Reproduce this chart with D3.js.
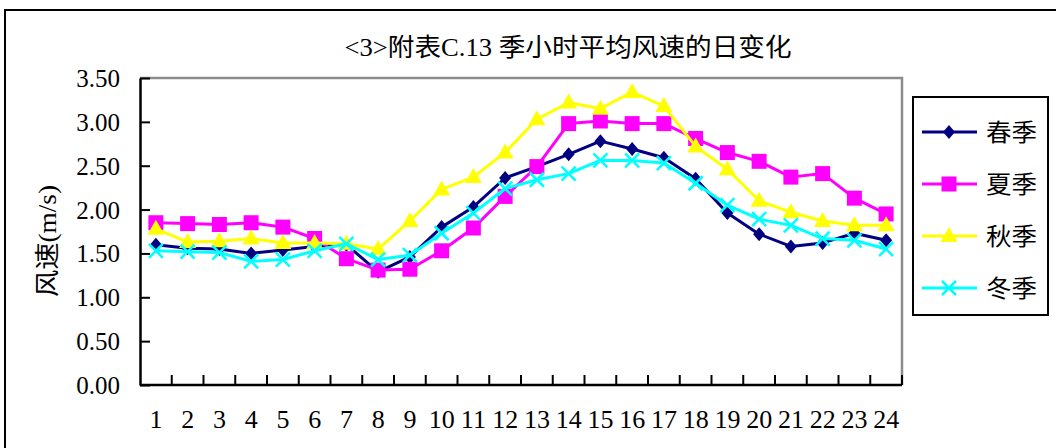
<!DOCTYPE html>
<html>
<head>
<meta charset="utf-8">
<script src="https://cdn.jsdelivr.net/npm/d3@7/dist/d3.min.js"></script>
<style>
  html, body { margin: 0; padding: 0; background: #fff; }
  svg { display: block; }
  text { font-family: "Liberation Serif", "Noto Sans CJK SC", serif; fill: #000; }
</style>
</head>
<body>
<svg id="chart" width="1056" height="448"></svg>
<script>
// Hour of day (category axis)
const hours = d3.range(1, 25);

// Seasonal mean hourly wind speed, m/s
const spring = [1.60, 1.56, 1.55, 1.50, 1.54, 1.58, 1.60, 1.29, 1.46, 1.80, 2.03, 2.36,
                2.49, 2.63, 2.78, 2.69, 2.59, 2.35, 1.96, 1.72, 1.58, 1.62, 1.73, 1.65];
const summer = [1.85, 1.84, 1.83, 1.85, 1.80, 1.67, 1.44, 1.31, 1.32, 1.53, 1.79, 2.15,
                2.49, 2.98, 3.01, 2.98, 2.98, 2.81, 2.65, 2.55, 2.37, 2.41, 2.13, 1.95];
const autumn = [1.78, 1.63, 1.64, 1.67, 1.62, 1.62, 1.61, 1.55, 1.87, 2.23, 2.37, 2.65,
                3.03, 3.22, 3.15, 3.34, 3.18, 2.72, 2.46, 2.10, 1.97, 1.87, 1.82, 1.82];
const winter = [1.53, 1.52, 1.51, 1.41, 1.43, 1.53, 1.61, 1.43, 1.48, 1.73, 1.96, 2.24,
                2.34, 2.41, 2.56, 2.56, 2.53, 2.30, 2.05, 1.89, 1.82, 1.67, 1.65, 1.55];

const seriesNames = ["春季", "夏季", "秋季", "冬季"];
const yTicks = [0, 0.5, 1.0, 1.5, 2.0, 2.5, 3.0, 3.5];

const titleText = "<3>附表C.13 季小时平均风速的日变化";
const yTitle = "风速(m/s)";

const series = [
  { name: seriesNames[0], values: spring, color: "#000080", marker: "diamond" },
  { name: seriesNames[1], values: summer, color: "#FF00FF", marker: "square" },
  { name: seriesNames[2], values: autumn, color: "#FFFF00", marker: "triangle" },
  { name: seriesNames[3], values: winter, color: "#00FFFF", marker: "cross" }
];

const svg = d3.select("#chart");
const plot = { left: 140, right: 902, top: 78, bottom: 385 };

// outer frame
svg.append("rect")
  .attr("x", 5).attr("y", 10).attr("width", 1070).attr("height", 460)
  .attr("fill", "none").attr("stroke", "#000").attr("stroke-width", 2);

// title
svg.append("text")
  .attr("x", 568).attr("y", 56)
  .attr("text-anchor", "middle")
  .attr("font-size", 25)
  .attr("textLength", 447).attr("lengthAdjust", "spacingAndGlyphs")
  .text(titleText);

const x = d3.scaleBand().domain(hours).range([plot.left, plot.right]).padding(0);
const y = d3.scaleLinear().domain([0, 3.5]).range([plot.bottom, plot.top]);

// plot area border (top/right in grey)
svg.append("path")
  .attr("d", `M${plot.left},${plot.top}H${plot.right}V${plot.bottom}`)
  .attr("fill", "none").attr("stroke", "#8c8c8c").attr("stroke-width", 2.5);

// y axis with inward ticks
const yAxis = d3.axisLeft(y).tickValues(yTicks).tickFormat(d3.format(".2f"))
  .tickSizeInner(-10).tickSizeOuter(0).tickPadding(20);
const gy = svg.append("g").attr("transform", `translate(${plot.left},0)`).call(yAxis);
gy.select(".domain").attr("stroke", "#000").attr("stroke-width", 2.5);
gy.selectAll(".tick line").attr("stroke", "#000").attr("stroke-width", 2);
gy.selectAll(".tick text")
  .attr("font-family", "Liberation Serif").attr("font-size", 25)
  .attr("fill", "#000").attr("dy", "0.34em");

// x axis: baseline, inward ticks at category boundaries
const gx = svg.append("g").attr("transform", `translate(0,${plot.bottom})`);
gx.append("line")
  .attr("x1", plot.left).attr("x2", plot.right)
  .attr("stroke", "#000").attr("stroke-width", 2.5);
gx.selectAll("line.tick")
  .data(hours)
  .join("line")
  .attr("class", "tick")
  .attr("x1", d => x(d) + x.bandwidth()).attr("x2", d => x(d) + x.bandwidth())
  .attr("y1", 0).attr("y2", -10)
  .attr("stroke", "#000").attr("stroke-width", 2);
gx.selectAll("text")
  .data(hours)
  .join("text")
  .attr("x", d => x(d) + x.bandwidth() / 2)
  .attr("y", 43)
  .attr("text-anchor", "middle")
  .attr("font-family", "Liberation Serif")
  .attr("font-size", 26)
  .text(d => d);

// y axis title
svg.append("text")
  .attr("transform", "translate(56,241) rotate(-90)")
  .attr("text-anchor", "middle")
  .attr("font-size", 25)
  .attr("textLength", 112).attr("lengthAdjust", "spacingAndGlyphs")
  .text(yTitle);

// marker shapes
function markerPath(type) {
  switch (type) {
    case "diamond": return "M0,-7L6,0L0,7L-6,0Z";
    case "square": return "M-7.5,-7.5H7.5V7.5H-7.5Z";
    case "triangle": return "M0,-9L8.5,6L-8.5,6Z";
    case "cross": return "M-7,-7L7,7M-7,7L7,-7";
  }
}
function drawMarker(g, type, color) {
  const p = g.append("path").attr("d", markerPath(type));
  if (type === "cross") {
    p.attr("fill", "none").attr("stroke", color).attr("stroke-width", 2.5);
  } else {
    p.attr("fill", color).attr("stroke", "none");
  }
}

const line = d3.line()
  .x((d, i) => x(hours[i]) + x.bandwidth() / 2)
  .y(d => y(d));

series.forEach(s => {
  const g = svg.append("g");
  g.append("path")
    .attr("d", line(s.values))
    .attr("fill", "none").attr("stroke", s.color).attr("stroke-width", 3)
    .attr("stroke-linejoin", "round");
  s.values.forEach((v, i) => {
    const m = g.append("g")
      .attr("transform", `translate(${x(hours[i]) + x.bandwidth() / 2},${y(v)})`);
    drawMarker(m, s.marker, s.color);
  });
});

// legend
const legend = svg.append("g");
legend.append("rect")
  .attr("x", 913).attr("y", 97).attr("width", 135).attr("height", 218)
  .attr("fill", "#fff").attr("stroke", "#000").attr("stroke-width", 2);
const legendY = d3.scalePoint().domain(seriesNames).range([132, 288]);
series.forEach(s => {
  const ly = legendY(s.name);
  const g = legend.append("g");
  g.append("line").attr("x1", 922).attr("x2", 977).attr("y1", ly).attr("y2", ly)
    .attr("stroke", s.color).attr("stroke-width", 3);
  const m = g.append("g").attr("transform", `translate(949,${ly})`);
  drawMarker(m, s.marker, s.color);
  g.append("text")
    .attr("x", 986).attr("y", ly).attr("dy", "0.36em")
    .attr("font-size", 24)
    .attr("textLength", 51).attr("lengthAdjust", "spacingAndGlyphs")
    .text(s.name);
});
</script>
</body>
</html>
